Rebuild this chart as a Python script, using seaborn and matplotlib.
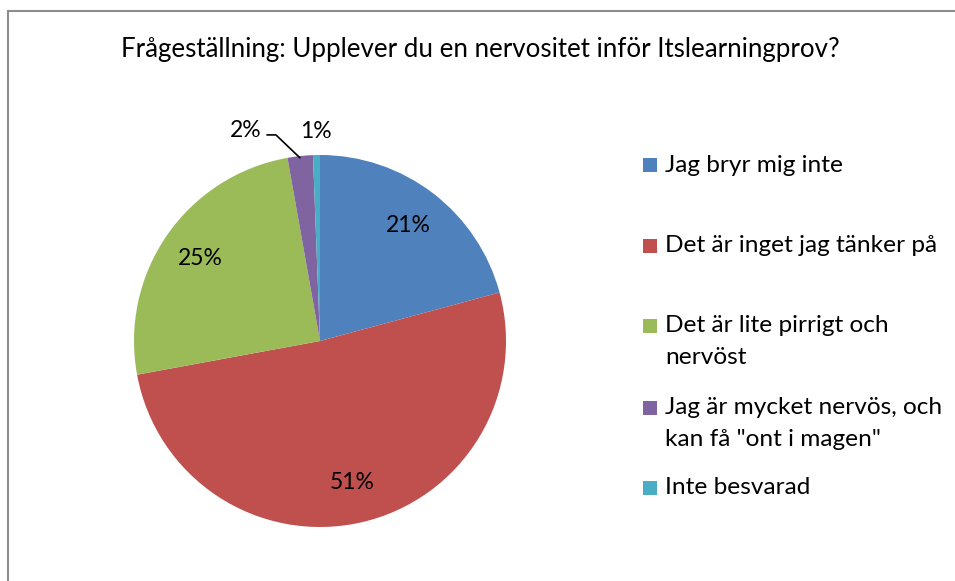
import matplotlib
matplotlib.use("Agg")
import matplotlib.pyplot as plt
from matplotlib.patches import Rectangle
import seaborn as sns
import numpy as np

categories = ["Jag bryr mig inte", "Det är inget jag tänker på", "Det är lite pirrigt och\nnervöst",
              "Jag är mycket nervös, och\nkan få \"ont i magen\"", "Inte besvarad"]
values = [20.8, 51.3, 25.1, 2.2, 0.6]
colors = ["#4F81BD", "#C0504D", "#9BBB59", "#8064A2", "#4BACC6"]
title = "Frågeställning: Upplever du en nervositet inför Itslearningprov?"

sns.set_theme(style="white")
plt.rcParams['font.family'] = ['Lato', 'DejaVu Sans']
plt.rcParams['text.color'] = 'black'

W, H = 955, 581
fig = plt.figure(figsize=(W / 100, H / 100), dpi=100)
fig.patch.set_facecolor("white")

# frame
fig.patches.append(Rectangle((8 / W, -0.1), 1.2, (H - 11) / H + 0.1, transform=fig.transFigure,
                             fill=False, edgecolor="#8c8c8c", lw=1.5))

cx, cy, r = 320, 341, 186
ax = fig.add_axes([(cx - r) / W, (H - cy - r) / H, 2 * r / W, 2 * r / H])
pal = sns.color_palette(colors)
wedges, texts, autotexts = ax.pie(values, colors=pal, startangle=90, counterclock=False,
                                  autopct=lambda p: f"{p:.0f}%", pctdistance=0.78,
                                  wedgeprops=dict(linewidth=0),
                                  textprops=dict(fontsize=16.5, color="black"))
ax.set_xlim(-1, 1)
ax.set_ylim(-1, 1)
ax.set_aspect("equal")
ax.axis("off")

# outside labels for small slices
autotexts[3].set_position((-0.398, 1.134))
autotexts[4].set_position((-0.022, 1.129))
autotexts[3].set_clip_on(False)
autotexts[4].set_clip_on(False)
ax.plot([-0.108, -0.237, -0.285], [0.985, 1.108, 1.108], color="black", lw=1.2, clip_on=False)

fig.text(480 / W, 1 - 50 / H, title, ha="center", va="center", fontsize=18.6)

# legend
entry_y = [165, 246, 326, 408, 488]
for lab, col, y in zip(categories, colors, entry_y):
    fig.patches.append(Rectangle((643 / W, 1 - (y + 7) / H), 14 / W, 14 / H,
                                 transform=fig.transFigure, facecolor=col, edgecolor="none"))
    for i, line in enumerate(lab.split("\n")):
        fig.text(665 / W, 1 - (y + 31 * i) / H, line, ha="left", va="center", fontsize=17.6)

fig.savefig("out.png", dpi=100)
